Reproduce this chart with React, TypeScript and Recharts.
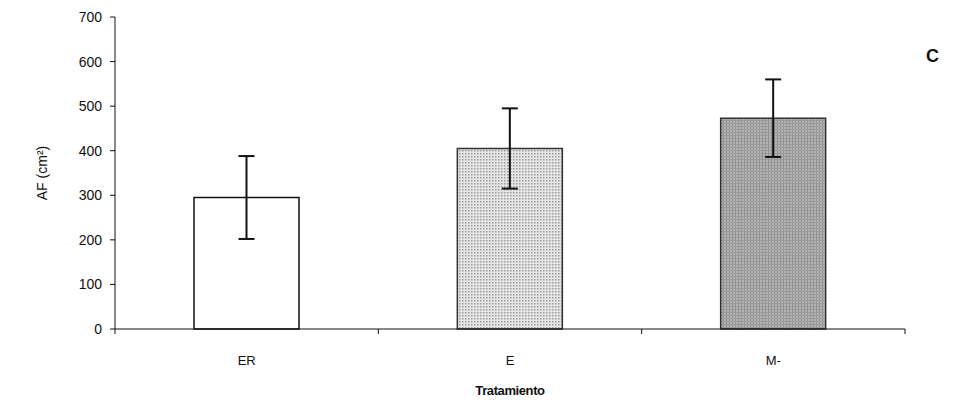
import React from 'react';
import { BarChart, Bar, XAxis, YAxis, ErrorBar, Cell, Label } from 'recharts';

const treatments = ['ER', 'E', 'M-'];
const leafArea = [295, 405, 473];
const leafAreaErr = [93, 90, 87];
const yTicks = [0, 100, 200, 300, 400, 500, 600, 700];

const barFills = ['#ffffff', 'url(#dotsLight)', 'url(#gridDark)'];
const barStrokes = ['#111111', '#333333', '#333333'];

const data = treatments.map((t, i) => ({ name: t, af: leafArea[i], err: leafAreaErr[i] }));

const W = 960;
const H = 404;
const M = { top: 17, right: 55, bottom: 0, left: 0 };
const Y_W = 115;
const X_H = 75;
const band = (W - M.left - M.right - Y_W) / treatments.length;

const font = 'Arial, "Liberation Sans", sans-serif';

// label under the category, with a tick mark on each category boundary
const CategoryTick = (props: any) => {
  const { x, y, payload, index } = props;
  const isLast = index === treatments.length - 1;
  return (
    <g>
      <line x1={x - band / 2} x2={x - band / 2} y1={y - 8} y2={y - 3} stroke="#111" />
      {isLast && <line x1={x + band / 2} x2={x + band / 2} y1={y - 8} y2={y - 3} stroke="#111" />}
      <text x={x} y={y + 28} textAnchor="middle" fontSize={13} fontFamily={font} fill="#111">
        {payload.value}
      </text>
    </g>
  );
};

export default function App() {
  return (
    <div style={{ position: 'absolute', left: 0, top: 0, width: W, height: H, background: '#fff' }}>
      <BarChart width={W} height={H} data={data} margin={M} barCategoryGap="30%">
        <defs>
          <pattern id="dotsLight" width="3" height="3" patternUnits="userSpaceOnUse">
            <rect width="3" height="3" fill="#e6e6e6" />
            <rect width="1.5" height="1.5" fill="#9a9a9a" />
          </pattern>
          <pattern id="gridDark" width="3" height="3" patternUnits="userSpaceOnUse">
            <rect width="3" height="3" fill="#b4b4b4" />
            <rect width="1" height="3" fill="#8e8e8e" />
            <rect width="3" height="1" fill="#9a9a9a" />
          </pattern>
        </defs>
        <XAxis
          dataKey="name"
          height={X_H}
          stroke="#111"
          tickLine={false}
          tick={<CategoryTick />}
          interval={0}
        >
          <Label
            value="Tratamiento"
            position="insideBottom"
            offset={9}
            style={{ fontSize: 13, fontFamily: font, fill: '#111', fontWeight: 'bold', letterSpacing: '-0.4px' }}
          />
        </XAxis>
        <YAxis
          width={Y_W}
          domain={[0, 700]}
          ticks={yTicks}
          interval={0}
          stroke="#111"
          tickSize={5}
          tickMargin={8}
          tick={{ fontSize: 14, fontFamily: font, fill: '#111' }}
        >
          <Label
            value="AF (cm²)"
            angle={-90}
            position="insideLeft"
            offset={42}
            style={{ fontSize: 14, fontFamily: font, fill: '#111', textAnchor: 'middle' }}
          />
        </YAxis>
        <Bar dataKey="af" isAnimationActive={false} strokeWidth={1.5}>
          {data.map((d, i) => (
            <Cell key={d.name} fill={barFills[i]} stroke={barStrokes[i]} />
          ))}
          <ErrorBar dataKey="err" width={8} strokeWidth={2} stroke="#111" />
        </Bar>
      </BarChart>
      <div
        style={{
          position: 'absolute',
          left: 926,
          top: 46,
          fontFamily: font,
          fontWeight: 'bold',
          fontSize: 18,
          color: '#111',
        }}
      >
        C
      </div>
    </div>
  );
}
